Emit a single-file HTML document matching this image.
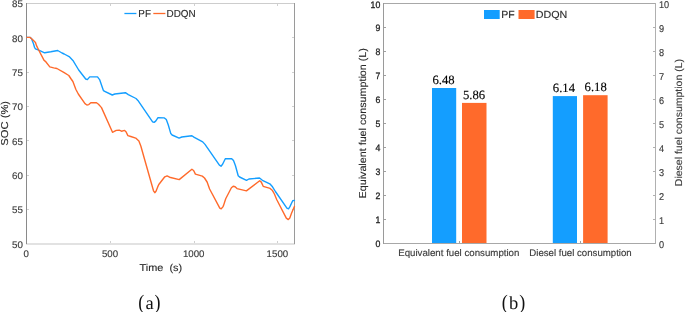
<!DOCTYPE html>
<html lang="en"><head><meta charset="utf-8"><title>Figure</title>
<style>
html,body{margin:0;padding:0;background:#fff;}
body{width:685px;height:312px;overflow:hidden;}
svg{display:block;}
text{font-family:"Liberation Sans",Arial,sans-serif;text-rendering:geometricPrecision;}
.t{font-size:9.6px;fill:#3c3c3c;stroke:#3c3c3c;stroke-width:0.15px;}
.td{font-size:9.6px;fill:#222;stroke:#222;stroke-width:0.3px;}
.l{font-size:10px;fill:#2a2a2a;stroke:#2a2a2a;stroke-width:0.12px;}
.v{font-family:"Liberation Serif","Times New Roman",serif;font-size:12.7px;fill:#000;stroke:#000;stroke-width:0.12px;}
.c{font-family:"Liberation Serif","Times New Roman",serif;font-size:18.5px;fill:#111;}
</style></head><body>
<svg width="685" height="312" viewBox="0 0 685 312">
<rect width="685" height="312" fill="#fff"/>

<g shape-rendering="crispEdges">
<rect x="26" y="3" width="269" height="1" fill="#cdcdcd"/>
<rect x="26" y="243" width="269" height="2" fill="#e2e2e2"/>
<rect x="26" y="3" width="1" height="241" fill="#8a8a8a"/>
<rect x="294" y="3" width="1" height="241" fill="#9a9a9a"/>
<rect x="27" y="209" width="2" height="1" fill="#d0d0d0"/>
<rect x="292" y="209" width="2" height="1" fill="#d0d0d0"/>
<rect x="27" y="175" width="2" height="1" fill="#d0d0d0"/>
<rect x="292" y="175" width="2" height="1" fill="#d0d0d0"/>
<rect x="27" y="140" width="2" height="1" fill="#d0d0d0"/>
<rect x="292" y="140" width="2" height="1" fill="#d0d0d0"/>
<rect x="27" y="106" width="2" height="1" fill="#d0d0d0"/>
<rect x="292" y="106" width="2" height="1" fill="#d0d0d0"/>
<rect x="27" y="72" width="2" height="1" fill="#d0d0d0"/>
<rect x="292" y="72" width="2" height="1" fill="#d0d0d0"/>
<rect x="27" y="37" width="2" height="1" fill="#d0d0d0"/>
<rect x="292" y="37" width="2" height="1" fill="#d0d0d0"/>
<rect x="110" y="241" width="1" height="2" fill="#d0d0d0"/>
<rect x="110" y="4" width="1" height="2" fill="#d0d0d0"/>
<rect x="194" y="241" width="1" height="2" fill="#d0d0d0"/>
<rect x="194" y="4" width="1" height="2" fill="#d0d0d0"/>
<rect x="277" y="241" width="1" height="2" fill="#d0d0d0"/>
<rect x="277" y="4" width="1" height="2" fill="#d0d0d0"/>
</g>
<text class="t" transform="translate(22.9,247.6) scale(1.02,1)" text-anchor="end">50</text>
<text class="t" transform="translate(22.9,213.3) scale(1.02,1)" text-anchor="end">55</text>
<text class="t" transform="translate(22.9,178.9) scale(1.02,1)" text-anchor="end">60</text>
<text class="t" transform="translate(22.9,144.6) scale(1.02,1)" text-anchor="end">65</text>
<text class="t" transform="translate(22.9,110.3) scale(1.02,1)" text-anchor="end">70</text>
<text class="t" transform="translate(22.9,76.0) scale(1.02,1)" text-anchor="end">75</text>
<text class="t" transform="translate(22.9,41.6) scale(1.02,1)" text-anchor="end">80</text>
<text class="t" transform="translate(22.9,7.3) scale(1.02,1)" text-anchor="end">85</text>
<text class="t" transform="translate(26.3,257.0) scale(1.01,1)" text-anchor="middle">0</text>
<text class="t" transform="translate(110.0,257.0) scale(1.01,1)" text-anchor="middle">500</text>
<text class="t" transform="translate(193.7,257.0) scale(1.01,1)" text-anchor="middle">1000</text>
<text class="t" transform="translate(277.4,257.0) scale(1.01,1)" text-anchor="middle">1500</text>
<text class="l" transform="translate(160.8,271.0) scale(1.09,1)" text-anchor="middle" xml:space="preserve">Time  (s)</text>
<text class="l" transform="translate(8.3,123.3) rotate(-90) scale(1.12,1)" text-anchor="middle">SOC (%)</text>
<polyline fill="none" stroke="#149eff" stroke-width="1.4" stroke-linejoin="round" stroke-linecap="round" points="26.9,37.4 30.2,37.4 31.6,38.8 32.5,41.2 33.5,43.8 34.5,47.3 35.5,48.9 37.4,49.7 39.8,50.7 44.6,52.8 50.8,51.8 57.7,50.5 62.0,53.0 64.2,54.0 69.6,56.9 72.9,60.4 78.7,70.0 85.7,79.0 87.4,79.6 89.7,76.9 97.5,76.9 99.6,79.6 103.3,90.2 104.2,91.2 112.3,95.0 114.8,94.0 125.4,92.7 128.3,94.6 136.0,98.5 137.9,100.4 152.6,121.8 154.1,122.4 155.7,121.1 158.0,117.7 164.4,117.9 166.3,119.6 168.3,125.0 170.8,133.6 172.1,135.0 179.1,138.1 181.8,137.0 191.9,135.7 194.3,137.4 202.7,141.9 205.0,144.4 219.4,165.2 221.0,166.2 222.6,164.3 225.3,158.8 231.7,158.7 233.5,160.6 235.4,165.5 238.2,175.7 239.6,177.0 246.5,180.3 248.9,179.0 259.5,178.0 262.4,180.3 269.8,183.8 272.5,186.8 275.4,191.5 286.9,208.1 288.5,208.8 289.8,206.9 292.7,200.8 294.4,200.4"/>
<polyline fill="none" stroke="#ff6a2b" stroke-width="1.4" stroke-linejoin="round" stroke-linecap="round" points="26.9,37.4 30.2,37.4 33.0,40.1 35.5,42.5 36.4,45.4 39.3,51.2 44.1,60.4 45.4,61.3 49.8,66.9 53.7,67.9 56.9,68.5 64.2,72.7 68.8,75.5 70.8,78.5 72.9,81.5 74.4,85.4 75.8,89.2 78.3,94.0 85.0,103.7 86.9,105.0 88.8,104.6 90.8,102.7 96.5,102.7 98.5,104.2 101.5,107.6 112.5,132.3 113.8,131.7 116.3,130.4 119.2,130.2 121.5,131.2 124.6,130.4 126.0,131.7 127.9,135.6 130.8,136.5 135.7,138.1 138.9,141.0 140.9,146.2 144.7,159.8 153.5,190.8 154.8,192.7 156.0,191.2 157.7,186.9 158.8,184.5 164.8,176.8 167.1,175.9 169.6,177.2 179.2,179.6 191.9,169.3 193.6,170.5 195.4,174.1 202.3,176.1 204.5,178.0 207.1,182.0 209.6,189.0 219.8,208.1 221.2,208.8 222.7,207.1 223.5,205.6 225.7,198.7 231.4,187.8 233.2,186.3 235.1,186.8 237.0,188.6 246.4,190.9 259.7,180.7 261.3,182.1 263.2,186.3 270.1,188.4 272.5,190.6 274.4,194.0 276.8,199.7 286.3,218.1 288.3,219.6 289.8,218.1 291.5,213.3 294.4,206.5"/>
<line x1="124.4" y1="13.5" x2="136.4" y2="13.5" stroke="#149eff" stroke-width="1.3"/>
<text class="l" transform="translate(138.3,17.4) scale(0.97,1)" style="font-size:10.2px">PF</text>
<line x1="153.3" y1="13.5" x2="165.4" y2="13.5" stroke="#ff6a2b" stroke-width="1.3"/>
<text class="l" transform="translate(166.5,17.4) scale(0.97,1)" style="font-size:10.2px">DDQN</text>
<text class="c" transform="translate(138.2,308.6) scale(0.88,1)" style="font-size:20.5px">(</text>
<text class="c" x="145.4" y="308.5">a</text>
<text class="c" transform="translate(154.5,308.6) scale(0.88,1)" style="font-size:20.5px">)</text>
<g shape-rendering="crispEdges">
<rect x="383" y="3" width="273" height="1" fill="#a8a8a8"/>
<rect x="383" y="243" width="273" height="1" fill="#a8a8a8"/>
<rect x="383" y="3" width="1" height="241" fill="#9a9a9a"/>
<rect x="655" y="3" width="1" height="241" fill="#b0b0b0"/>
<rect x="384" y="219" width="2" height="1" fill="#a0a0a0"/>
<rect x="653" y="219" width="2" height="1" fill="#b0b0b0"/>
<rect x="384" y="195" width="2" height="1" fill="#a0a0a0"/>
<rect x="653" y="195" width="2" height="1" fill="#b0b0b0"/>
<rect x="384" y="171" width="2" height="1" fill="#a0a0a0"/>
<rect x="653" y="171" width="2" height="1" fill="#b0b0b0"/>
<rect x="384" y="147" width="2" height="1" fill="#a0a0a0"/>
<rect x="653" y="147" width="2" height="1" fill="#b0b0b0"/>
<rect x="384" y="123" width="2" height="1" fill="#a0a0a0"/>
<rect x="653" y="123" width="2" height="1" fill="#b0b0b0"/>
<rect x="384" y="99" width="2" height="1" fill="#a0a0a0"/>
<rect x="653" y="99" width="2" height="1" fill="#b0b0b0"/>
<rect x="384" y="75" width="2" height="1" fill="#a0a0a0"/>
<rect x="653" y="75" width="2" height="1" fill="#b0b0b0"/>
<rect x="384" y="51" width="2" height="1" fill="#a0a0a0"/>
<rect x="653" y="51" width="2" height="1" fill="#b0b0b0"/>
<rect x="384" y="27" width="2" height="1" fill="#a0a0a0"/>
<rect x="653" y="27" width="2" height="1" fill="#b0b0b0"/>
<rect x="459" y="241" width="1" height="2" fill="#a0a0a0"/>
<rect x="580" y="241" width="1" height="2" fill="#a0a0a0"/>
</g>
<rect x="432" y="88.0" width="24.2" height="155.0" fill="#149eff" shape-rendering="auto"/>
<rect x="462" y="102.9" width="24.5" height="140.1" fill="#ff6a2b" shape-rendering="auto"/>
<rect x="552.8" y="96.1" width="24.2" height="146.9" fill="#149eff" shape-rendering="auto"/>
<rect x="583.1" y="95.2" width="24.5" height="147.8" fill="#ff6a2b" shape-rendering="auto"/>
<text class="td" transform="translate(380.3,246.9) scale(0.93,1)" text-anchor="end" style="font-size:9.4px">0</text>
<text class="t" transform="translate(659.0,247.7) scale(0.93,1)" style="font-size:9.9px">0</text>
<text class="td" transform="translate(380.3,222.9) scale(0.93,1)" text-anchor="end" style="font-size:9.4px">1</text>
<text class="t" transform="translate(659.0,223.7) scale(0.93,1)" style="font-size:9.9px">1</text>
<text class="td" transform="translate(380.3,198.9) scale(0.93,1)" text-anchor="end" style="font-size:9.4px">2</text>
<text class="t" transform="translate(659.0,199.7) scale(0.93,1)" style="font-size:9.9px">2</text>
<text class="td" transform="translate(380.3,174.9) scale(0.93,1)" text-anchor="end" style="font-size:9.4px">3</text>
<text class="t" transform="translate(659.0,175.7) scale(0.93,1)" style="font-size:9.9px">3</text>
<text class="td" transform="translate(380.3,150.9) scale(0.93,1)" text-anchor="end" style="font-size:9.4px">4</text>
<text class="t" transform="translate(659.0,151.7) scale(0.93,1)" style="font-size:9.9px">4</text>
<text class="td" transform="translate(380.3,126.9) scale(0.93,1)" text-anchor="end" style="font-size:9.4px">5</text>
<text class="t" transform="translate(659.0,127.7) scale(0.93,1)" style="font-size:9.9px">5</text>
<text class="td" transform="translate(380.3,102.9) scale(0.93,1)" text-anchor="end" style="font-size:9.4px">6</text>
<text class="t" transform="translate(659.0,103.7) scale(0.93,1)" style="font-size:9.9px">6</text>
<text class="td" transform="translate(380.3,78.9) scale(0.93,1)" text-anchor="end" style="font-size:9.4px">7</text>
<text class="t" transform="translate(659.0,79.7) scale(0.93,1)" style="font-size:9.9px">7</text>
<text class="td" transform="translate(380.3,54.9) scale(0.93,1)" text-anchor="end" style="font-size:9.4px">8</text>
<text class="t" transform="translate(659.0,55.7) scale(0.93,1)" style="font-size:9.9px">8</text>
<text class="td" transform="translate(380.3,30.9) scale(0.93,1)" text-anchor="end" style="font-size:9.4px">9</text>
<text class="t" transform="translate(659.0,31.7) scale(0.93,1)" style="font-size:9.9px">9</text>
<text class="td" transform="translate(380.3,7.6) scale(0.93,1)" text-anchor="end" style="font-size:9.4px">10</text>
<text class="t" transform="translate(659.0,8.3) scale(0.93,1)" style="font-size:9.9px">10</text>
<text class="v" x="443.5" y="83.8" text-anchor="middle">6.48</text>
<text class="v" x="474.1" y="98.7" text-anchor="middle">5.86</text>
<text class="v" x="563.9" y="91.9" text-anchor="middle">6.14</text>
<text class="v" x="595.7" y="91.2" text-anchor="middle">6.18</text>
<text class="t" transform="translate(458.8,255.9) scale(1.01,1)" text-anchor="middle">Equivalent fuel consumption</text>
<text class="t" transform="translate(580.5,255.9) scale(1.005,1)" text-anchor="middle">Diesel fuel consumption</text>
<text class="l" transform="translate(365.5,123.3) rotate(-90) scale(1.073,1)" text-anchor="middle">Equivalent fuel consumption (L)</text>
<text class="l" transform="translate(681.5,122.6) rotate(-90) scale(1.05,1)" text-anchor="middle" style="fill:#3c3c3c;stroke:#3c3c3c">Diesel fuel consumption (L)</text>
<rect x="484" y="10" width="15.7" height="9" fill="#149eff"/>
<text class="l" transform="translate(501.3,18.4) scale(1.02,1)" style="font-size:10.3px">PF</text>
<rect x="518.5" y="10" width="16.1" height="9" fill="#ff6a2b"/>
<text class="l" transform="translate(535.8,18.4) scale(1.04,1)" style="font-size:10.3px">DDQN</text>
<text class="c" transform="translate(501.7,308.6) scale(0.88,1)" style="font-size:20.5px">(</text>
<text class="c" x="508.9" y="308.5">b</text>
<text class="c" transform="translate(519.2,308.6) scale(0.88,1)" style="font-size:20.5px">)</text>
</svg>
</body></html>
